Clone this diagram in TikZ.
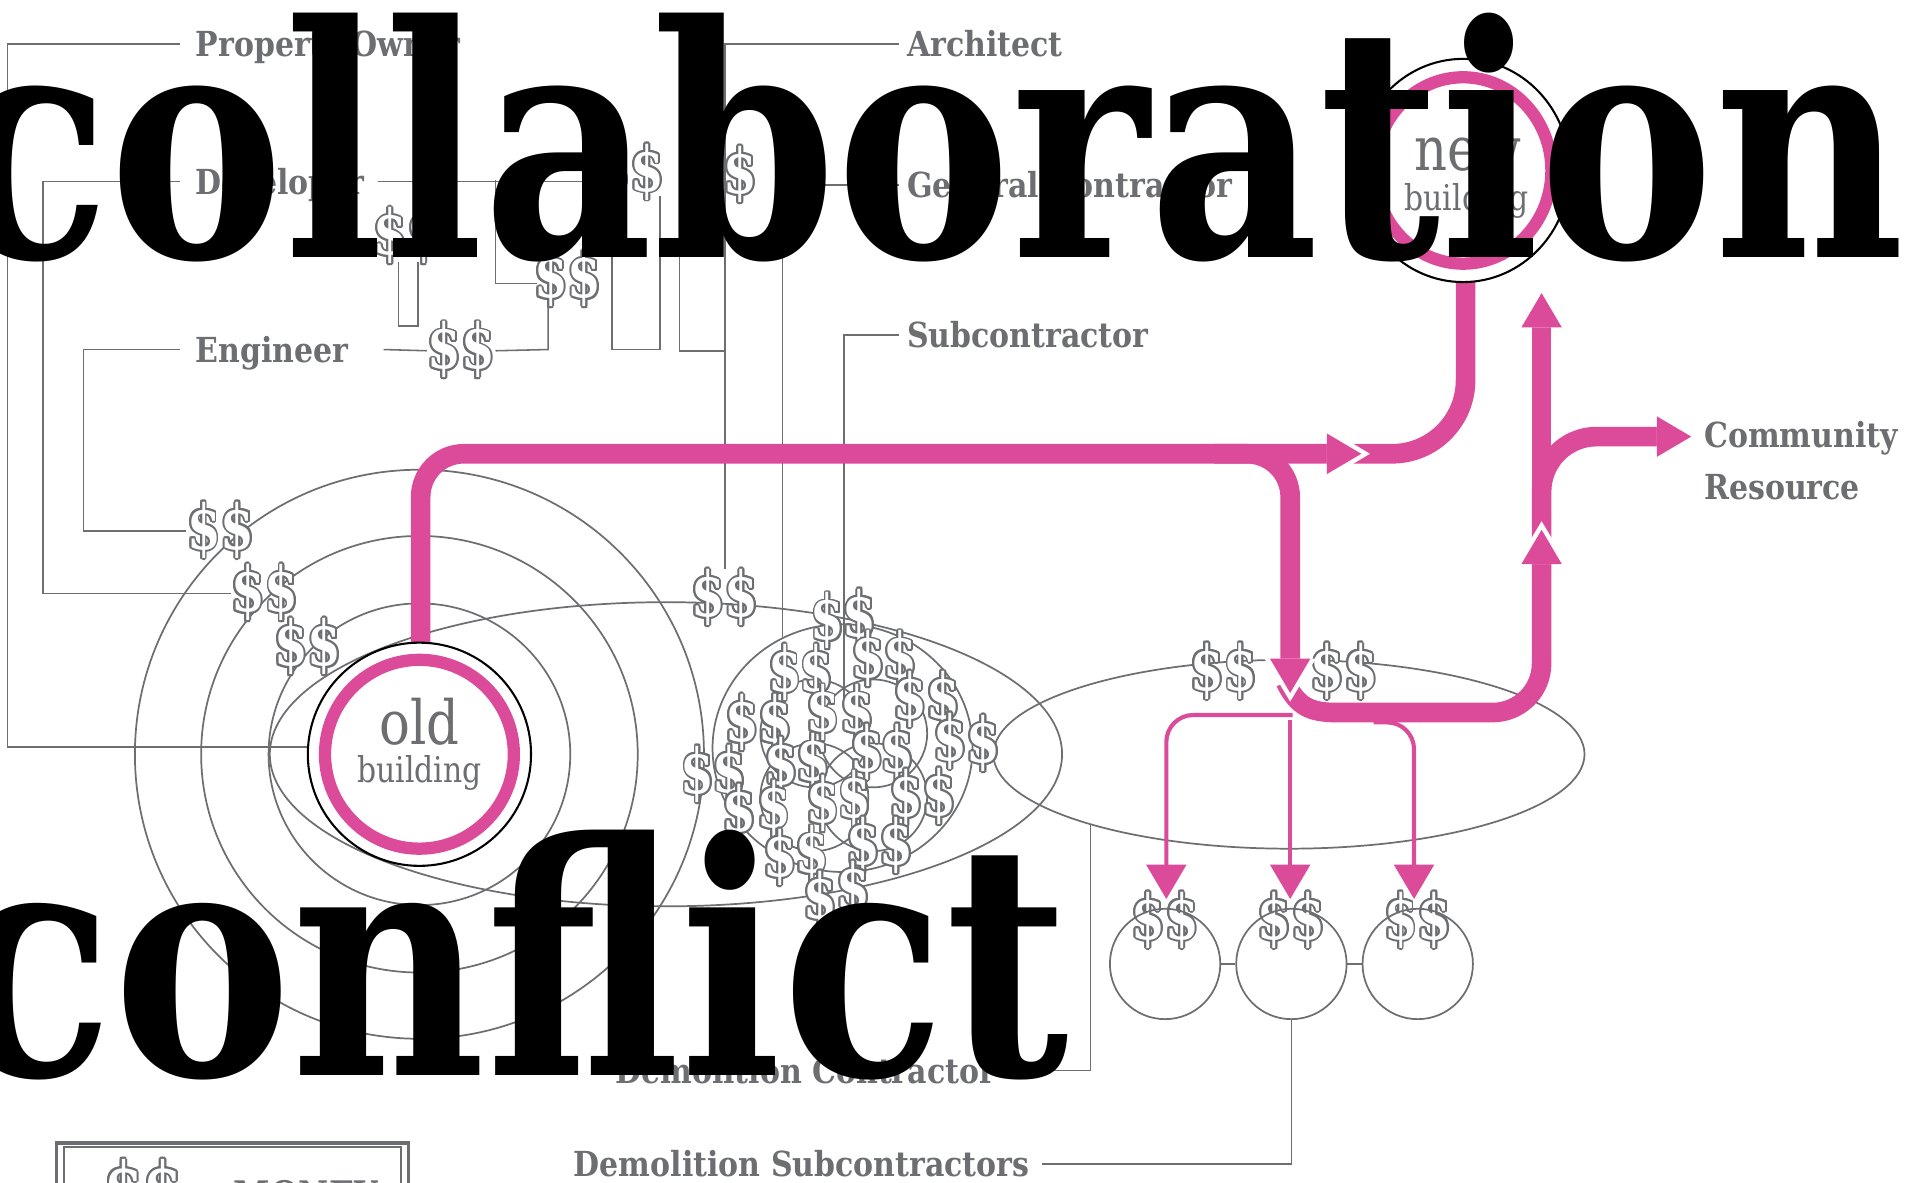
\documentclass[tikz,border=0pt]{standalone}
\usepackage{fontspec}
\usepackage[copies]{contour}
\usetikzlibrary{shapes.geometric}

\newfontfamily\labelfont{DejaVu Serif}[FakeStretch=0.87]
\newfontfamily\bldgfont{DejaVu Serif}[FakeStretch=0.84]
\newfontfamily\moneyfont{DejaVu Serif}[FakeStretch=0.78]
\newfontfamily\bigfont{DejaVu Serif}

\definecolor{graytx}{RGB}{109,110,113}
\definecolor{pinkc}{RGB}{220,74,154}
\contourlength{0.55pt}
\newcommand\dol[1]{\contour{graytx}{#1}}

\tikzset{
  conn/.style={draw=graytx, line width=0.45pt},
  ring/.style={draw=graytx, line width=0.5pt},
  lbl/.style={font=\labelfont\bfseries\fontsize{10}{12}\selectfont, text=graytx,
    inner sep=0pt, text height=7.3pt, text depth=0pt},
  money/.style={font=\moneyfont\bfseries\fontsize{18}{18}\selectfont, text=white, inner sep=0pt},
  bldbig/.style={font=\bldgfont\fontsize{17.7}{18}\selectfont, text=graytx, inner sep=0pt, anchor=base},
  bldsmall/.style={font=\bldgfont\fontsize{10.3}{12}\selectfont, text=graytx, inner sep=0pt, anchor=base},
  pinkline/.style={draw=pinkc, line width=2mm},
  thinpink/.style={draw=pinkc, line width=0.42mm},
  head/.pic={\fill[white] (7,0) -- (-28,21) -- (-28,-21) -- cycle;
    \fill[pinkc] (0,0) -- (-28,16.5) -- (-28,-16.5) -- cycle;},
  thinhead/.pic={\fill[pinkc] (0,0) -- (-28,16.5) -- (-28,-16.5) -- cycle;}
}

\begin{document}
\begin{tikzpicture}[x=0.125mm, y=-0.125mm]
  \useasboundingbox (0,0) rectangle (1568,964);
  \fill[white] (0,0) rectangle (1568,964);
  \clip (0,0) rectangle (1568,964);

  % rings round the old building
  \draw[ring] (342,615) circle (232);
  \draw[ring] (342,615) circle (178);
  \draw[ring] (342,615) circle (123);
  \draw[ring] (543,615) ellipse [x radius=323, y radius=124];
  \draw[ring] (687,610) ellipse [x radius=106, y radius=101];
  \foreach \cx/\cy in {664/598, 712/598, 664/650, 712/650}
    \draw[ring] (\cx,\cy) circle (44);
  \draw[ring] (1051,615) ellipse [x radius=241, y radius=77];

  % money
  \foreach \x/\y [count=\k] in {514/141, 590/143, 332/193, 463/228, 376/286, 180/433,
      216/484, 251/528, 591/488, 998/548, 1096/548, 950/751, 1053/751, 1156/751}
    \node[money] (p\k) at (\x,\y) {\dol{\$\$}};
  \foreach \x/\y [count=\k] in {675/507, 701/504, 640/549, 666/549, 708/538, 734/538,
      605/590, 632/590, 671/582, 699/582, 742/571, 769/571, 569/632, 595/631, 637/625,
      663/622, 707/614, 732/614, 775/605, 802/607, 603/663, 631/660, 671/656, 697/652,
      739/651, 766/650, 636/700, 662/697, 704/690, 731/690, 669/734, 696/726}
    \node[money] (s\k) at (\x,\y) {\dol{\$}};

  % labels
  \node[lbl, anchor=west] (po) at (159,36) {Property Owner};
  \node[lbl, anchor=west] (dev) at (159,148) {Developer};
  \node[lbl, anchor=west] (eng) at (159,285) {Engineer};
  \node[lbl, anchor=west] (arch) at (739,36) {Architect};
  \node[lbl, anchor=west] (gc) at (739,151) {General Contractor};
  \node[lbl, anchor=west] (sub) at (739,273) {Subcontractor};
  \node[lbl, anchor=east] (demc) at (812,873) {Demolition Contractor};
  \node[lbl, anchor=east] (dems) at (840,949) {Demolition Subcontractors};
  \node[lbl, anchor=west] (comm) at (1389,355) {Community};
  \node[lbl, anchor=west] (res) at (1389,397) {Resource};

  % small subcontractor circles
  \foreach \x [count=\k] in {950,1053,1156}
    \node[circle, draw=graytx, line width=0.5pt, minimum size=11.25mm, inner sep=0] (sc\k) at (\x,786) {};
  \draw[conn] (sc1) -- (sc2);
  \draw[conn] (sc2) -- (sc3);

  % connectors
  \draw[conn] ([xshift=-1.5mm]po.west) -- (6,36) |- (251,609);
  \draw[conn] ([xshift=-1.5mm]dev.west) -- (35,148) |- (p7.west);
  \draw[conn] ([xshift=1.25mm]dev.east) -- (p1.west |- dev.east);
  \draw[conn] ([xshift=-1.5mm]eng.west) -- (68,285) |- (p6.west);
  \draw[conn] ([xshift=3.5mm]eng.east) -- (p5.west);
  \draw[conn] (p5.east) -- (447,285) -- (447,250);
  \draw[conn] (325,214) -- (325,266) -- (341,266) -- (341,214);
  \draw[conn] (404,147) -- (404,231) -- (438,231);
  \draw[conn] (499,160) -- (499,285) -- (538,285) -- (538,160);
  \draw[conn] (554,160) -- (554,286) -- (591,286);
  \draw[conn] ([xshift=-0.75mm]arch.west) -| (p9.north);
  \draw[conn] ([xshift=-0.75mm]gc.west) -- (638,151) -- (638,519);
  \draw[conn] ([xshift=-0.75mm]sub.west) -- (688,273) -- (688,571);
  \draw[conn] ([xshift=0.75mm]demc.east) -- (889,873) -- (889,672);
  \draw[conn] ([xshift=1.25mm]dems.east) -| (sc2.south);

  % legend
  \draw[graytx, line width=0.9pt] (46,932) rectangle (333,1010);
  \draw[graytx, line width=0.5pt] (52,935) rectangle (327,1010);
  \node[money, font=\moneyfont\bfseries\fontsize{21}{21}\selectfont, anchor=base] (lgd) at (117,990) {\dol{\$\$}};
  \node[lbl, font=\labelfont\bfseries\fontsize{11}{12}\selectfont, anchor=base west, text height=, text depth=] (mny) at (190,985) {MONEY};

  % pink flows
  \draw[thinpink, rounded corners=2.75mm] (1054,583) -- (951,583) -- (951,708);
  \draw[thinpink] (1052,587) -- (1052,708);
  \draw[thinpink, rounded corners=2.75mm] (1120,589) -- (1153,589) -- (1153,708);
  \draw[pinkline, rounded corners=7.5mm] (1100,370) -- (1195,370) -- (1195,229);
  \draw[pinkline, rounded corners=4.4mm] (343,524) -- (343,370) -- (1084,370);
  \draw[pinkline, rounded corners=4.4mm] (990,370) -- (1052,370) -- (1052,538);
  \draw[pinkline] (1048,556) .. controls (1058,576) and (1068,581) .. (1090,581)
    [rounded corners=5mm] -- (1257,581) -- (1257,460);
  \draw[pinkline] (1257,445) -- (1257,266);
  \draw[pinkline, rounded corners=5.6mm] (1257,445) -- (1257,356) -- (1352,356);
  \pic at (1110,370) {head};
  \pic[rotate=-90] at (1052,565) {head};
  \pic[rotate=90] at (1257,432) {head};
  \pic[rotate=90] at (1257,239) {head};
  \pic at (1379,356) {head};
  \foreach \x in {951,1052,1153}
    \pic[rotate=-90] at (\x,733) {thinhead};

  % buildings
  \node[circle, draw=black, line width=0.6pt, fill=white, minimum size=22.75mm, inner sep=0] (old) at (342,615) {};
  \draw[pinkc, line width=1.25mm] (old.center) circle (77);
  \node[bldbig] (oldw) at (342,607) {old};
  \node[bldsmall] (oldb) at (342,638) {building};
  \node[ellipse, draw=black, line width=0.6pt, fill=white, minimum width=21.75mm, minimum height=22.75mm, inner sep=0] (new) at (1193,139) {};
  \draw[pinkc, line width=1.25mm] (new.center) ellipse [x radius=72, y radius=76];
  \node[bldbig] (neww) at (1197,139) {new};
  \node[bldsmall] (newb) at (1196,172) {building};

  % headline words
  \node[anchor=base west, inner sep=0] (collab) at (-41,210)
    {\resizebox{199.1mm}{24.9mm}{\bigfont\bfseries collaboration}};
  \node[anchor=base west, inner sep=0] (confl) at (-41,877)
    {\resizebox{113.9mm}{25mm}{\bigfont\bfseries conflict}};
\end{tikzpicture}
\end{document}
